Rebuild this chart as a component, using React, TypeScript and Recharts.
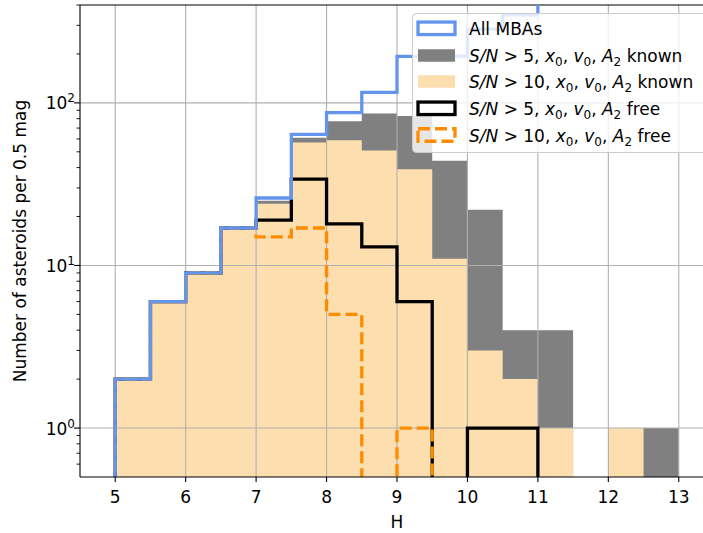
import { Area, ComposedChart, Line, ReferenceLine, XAxis, YAxis } from 'recharts';

// zero counts cannot sit on a log axis, they are pushed below the visible range
const FLOOR = 0.1;

const binStarts = [5, 5.5, 6, 6.5, 7, 7.5, 8, 8.5, 9, 9.5, 10, 10.5, 11, 11.5, 12, 12.5, 13, 13.5];
const binEnd = 14;

const allMBAs = [2, 6, 9, 17, 26, 64, 87, 116, 193, 194, 284, 348, 560, 850, 1300, 1900, 2600, 3300];
const snr5Known = [2, 6, 9, 17, 25, 61, 77, 86, 83, 44, 22, 4, 4, 0, 1, 1, 0, 0];
const snr10Known = [2, 6, 9, 17, 24, 57, 59, 51, 39, 11, 3, 2, 1, 0, 1, 0, 0, 0];
const snr5Free = [2, 6, 9, 17, 19, 34, 18, 13, 6, 0, 1, 1, 0, 0, 0, 0, 0, 0];
const snr10Free = [2, 6, 9, 17, 15, 17, 5, 0, 1, 0, 0, 0, 0, 0, 0, 0, 0, 0];

const xTicks = [5, 6, 7, 8, 9, 10, 11, 12, 13];
const yMajor = [1, 10, 100];
const yMinor = [0.6, 0.7, 0.8, 0.9, 2, 3, 4, 5, 6, 7, 8, 9, 20, 30, 40, 50, 60, 70, 80, 90, 200, 300, 400];

const toLog = (c: number) => (c > 0 ? c : FLOOR);

const rows = [
  { h: binStarts[0], all: FLOOR, s5k: FLOOR, s10k: FLOOR, s5f: FLOOR, s10f: FLOOR },
  ...binStarts.map((h, i) => ({
    h,
    all: toLog(allMBAs[i]),
    s5k: toLog(snr5Known[i]),
    s10k: toLog(snr10Known[i]),
    s5f: toLog(snr5Free[i]),
    s10f: toLog(snr10Free[i])
  })),
  { h: binEnd, all: FLOOR, s5k: FLOOR, s10k: FLOOR, s5f: FLOOR, s10f: FLOOR }
];

const FONT = 'DejaVu Sans';
const PLOT_LEFT = 80;
const PLOT_BOTTOM = 477;
const GRID = '#b0b0b0';
const BLUE = '#6495ED';
const GRAY = '#808080';
const TAN = '#FDDEAE';
const ORANGE = '#FF8C00';

function XTick({ x, payload }: any) {
  return (
    <g>
      <line x1={x} x2={x} y1={PLOT_BOTTOM} y2={PLOT_BOTTOM + 5} stroke="#000" strokeWidth={1.1} />
      <text x={x} y={PLOT_BOTTOM + 26} textAnchor="middle" fontFamily={FONT} fontSize={17} fill="#000">
        {payload.value}
      </text>
    </g>
  );
}

function YTick({ y, payload }: any) {
  const major = yMajor.includes(payload.value);
  if (!major) {
    return <line x1={PLOT_LEFT - 3.5} x2={PLOT_LEFT} y1={y} y2={y} stroke="#000" strokeWidth={0.9} />;
  }
  const exp = Math.round(Math.log10(payload.value));
  return (
    <g>
      <line x1={PLOT_LEFT - 6} x2={PLOT_LEFT} y1={y} y2={y} stroke="#000" strokeWidth={1.1} />
      <text x={75} y={y + 6.5} textAnchor="end" fontFamily={FONT} fontSize={17} fill="#000">
        10
        <tspan dy={-7} fontSize={12}>
          {exp}
        </tspan>
      </text>
    </g>
  );
}

function MathLabel({ snr, tail }: { snr: string; tail: string }) {
  const sub = (d: string) => (
    <tspan dy={4} fontSize={12}>
      {d}
    </tspan>
  );
  return (
    <>
      <tspan fontStyle="italic">S/N</tspan>
      <tspan>{` > ${snr}, `}</tspan>
      <tspan fontStyle="italic">x</tspan>
      {sub('0')}
      <tspan dy={-4}>{', '}</tspan>
      <tspan fontStyle="italic">v</tspan>
      {sub('0')}
      <tspan dy={-4}>{', '}</tspan>
      <tspan fontStyle="italic">A</tspan>
      {sub('2')}
      <tspan dy={-4}>{` ${tail}`}</tspan>
    </>
  );
}

function LegendBox() {
  const rowsY = [28.3, 55.5, 81.5, 108.3, 135];
  const hx = 418;
  const hw = 37;
  const hh = 12.5;
  const tx = 469;
  return (
    <svg
      width={703}
      height={533}
      style={{ position: 'absolute', left: 0, top: 0, pointerEvents: 'none' }}
    >
      <rect x={412.5} y={13.5} width={300} height={139} rx={4} fill="#fff" fillOpacity={0.8} stroke="#cccccc" />
      <rect x={hx} y={rowsY[0] - hh / 2} width={hw} height={hh} fill="none" stroke={BLUE} strokeWidth={3.3} />
      <rect x={hx} y={rowsY[1] - hh / 2} width={hw} height={hh} fill={GRAY} />
      <rect x={hx} y={rowsY[2] - hh / 2} width={hw} height={hh} fill={TAN} />
      <rect x={hx} y={rowsY[3] - hh / 2} width={hw} height={hh} fill="none" stroke="#000" strokeWidth={3.3} />
      <rect
        x={hx}
        y={rowsY[4] - hh / 2}
        width={hw}
        height={hh}
        fill="none"
        stroke={ORANGE}
        strokeWidth={3.3}
        strokeDasharray="12 5"
      />
      <g fontFamily={FONT} fontSize={17} fill="#000" style={{ whiteSpace: 'pre' }}>
        <text x={tx} y={rowsY[0] + 6.5}>All MBAs</text>
        <text x={tx} y={rowsY[1] + 6.5}>
          <MathLabel snr="5" tail="known" />
        </text>
        <text x={tx} y={rowsY[2] + 6.5}>
          <MathLabel snr="10" tail="known" />
        </text>
        <text x={tx} y={rowsY[3] + 6.5}>
          <MathLabel snr="5" tail="free" />
        </text>
        <text x={tx} y={rowsY[4] + 6.5}>
          <MathLabel snr="10" tail="free" />
        </text>
      </g>
    </svg>
  );
}

export default function App() {
  return (
    <div
      style={{
        position: 'fixed',
        left: 0,
        top: 0,
        width: 703,
        height: 533,
        overflow: 'hidden',
        background: '#fff'
      }}
    >
      <ComposedChart width={716} height={533} data={rows} margin={{ top: 5, right: 2, bottom: 0, left: 0 }}>
        <XAxis
          dataKey="h"
          type="number"
          domain={[4.5, 13.5]}
          allowDataOverflow
          ticks={xTicks}
          interval={0}
          height={56}
          tickLine={false}
          tick={<XTick />}
          axisLine={{ stroke: '#000', strokeWidth: 1.1 }}
          label={{
            content: () => (
              <text x={397} y={528} textAnchor="middle" fontFamily={FONT} fontSize={17} fill="#000">
                H
              </text>
            )
          }}
        />
        <YAxis
          type="number"
          scale="log"
          domain={[0.5, 400]}
          allowDataOverflow
          ticks={[...yMinor, ...yMajor]}
          interval={0}
          width={80}
          tickLine={false}
          tick={<YTick />}
          axisLine={{ stroke: '#000', strokeWidth: 1.1 }}
          label={{
            content: () => (
              <text
                x={25.5}
                y={241}
                transform="rotate(-90 25.5 241)"
                textAnchor="middle"
                fontFamily={FONT}
                fontSize={17}
                fill="#000"
              >
                Number of asteroids per 0.5 mag
              </text>
            )
          }}
        />

        <Area
          dataKey="s5k"
          type="stepAfter"
          stroke="none"
          fill={GRAY}
          fillOpacity={1}
          baseValue={FLOOR}
          isAnimationActive={false}
        />
        <Area
          dataKey="s10k"
          type="stepAfter"
          stroke="none"
          fill={TAN}
          fillOpacity={1}
          baseValue={FLOOR}
          isAnimationActive={false}
        />

        {xTicks.map((t) => (
          <ReferenceLine key={`gx${t}`} x={t} stroke={GRID} strokeWidth={1.1} />
        ))}
        {yMajor.map((t) => (
          <ReferenceLine key={`gy${t}`} y={t} stroke={GRID} strokeWidth={1.1} />
        ))}
        <ReferenceLine y={400} stroke="#000" strokeWidth={1.1} />

        <Line
          dataKey="s5f"
          type="stepAfter"
          stroke="#000"
          strokeWidth={3.3}
          strokeLinejoin="miter"
          dot={false}
          activeDot={false}
          isAnimationActive={false}
        />
        <Line
          dataKey="s10f"
          type="stepAfter"
          stroke={ORANGE}
          strokeWidth={3.3}
          strokeDasharray="12 5"
          strokeLinejoin="miter"
          dot={false}
          activeDot={false}
          isAnimationActive={false}
        />
        <Line
          dataKey="all"
          type="stepAfter"
          stroke={BLUE}
          strokeWidth={3.3}
          strokeLinejoin="miter"
          dot={false}
          activeDot={false}
          isAnimationActive={false}
        />
      </ComposedChart>
      <LegendBox />
    </div>
  );
}
